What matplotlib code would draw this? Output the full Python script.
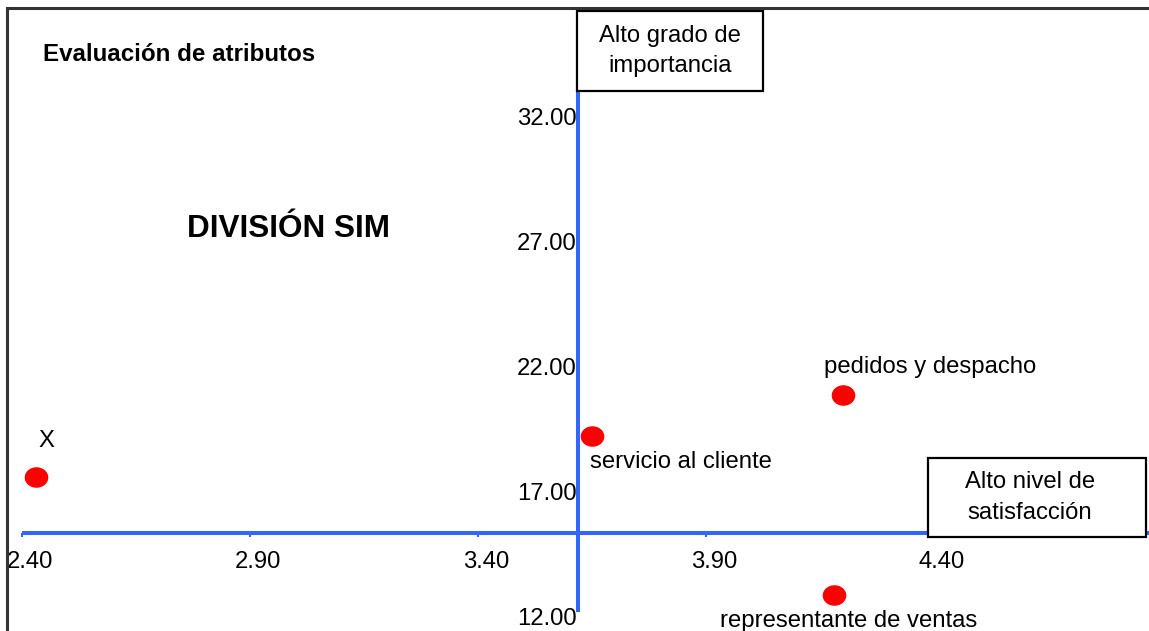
import numpy as np
import matplotlib
matplotlib.use("Agg")
import matplotlib.pyplot as plt
from matplotlib.path import Path
from matplotlib.patches import Rectangle
from matplotlib.lines import Line2D

# ---------------- data ----------------
categories = ["X", "servicio al cliente", "pedidos y despacho", "representante de ventas"]
satisfaction = [2.43, 3.65, 4.20, 4.18]       # x values
importance = [17.40, 19.05, 20.68, 12.68]     # y values
x_ticks = [2.40, 2.90, 3.40, 3.90, 4.40]
y_ticks = [12.00, 17.00, 22.00, 27.00, 32.00]
x_cross = 3.62    # where the vertical axis crosses
y_cross = 15.16   # where the horizontal axis crosses
title = "Evaluación de atributos"
subtitle = "DIVISIÓN SIM"
box_importance = "Alto grado de\nimportancia"
box_satisfaction = "Alto nivel de\nsatisfacción"

# label offsets in pixels (dx, dy) and alignment
label_offsets = [(3, 30, "left"), (-2, -32, "left"), (-19, 22, "left"), (-114, -32, "left")]

W, H = 1149, 631
plt.rcParams["font.family"] = ["Liberation Sans", "DejaVu Sans"]
fig = plt.figure(figsize=(W / 100, H / 100), dpi=100)
ax = fig.add_axes([0, 0, 1, 1])
ax.set_axis_off()

# pixel mapping: x=2.40 at px 22, 456 px per unit; y=12 at px 612 (from top), 25 px per unit
ax.set_xlim(2.40 - 22 / 456, 2.40 + (W - 22) / 456)
ax.set_ylim(12 - (H - 612) / 25, 12 + 612 / 25)

blue = "#3366FF"
fs = 17.2

# axes lines
ax.plot([x_ticks[0], ax.get_xlim()[1]], [y_cross, y_cross], color=blue, lw=2.9,
        solid_capstyle="butt", zorder=2)
ax.plot([x_cross, x_cross], [y_ticks[0], 35.5], color=blue, lw=2.9,
        solid_capstyle="butt", zorder=2)
# small tick marks on horizontal axis
ax.plot(x_ticks, [y_cross] * len(x_ticks), linestyle="none", marker=3, ms=3,
        mew=1.5, color=blue, zorder=2)

# tick labels
for xt in x_ticks:
    ax.annotate(f"{xt:.2f}", xy=(xt, y_cross), xytext=(8, -35), textcoords="offset pixels",
                ha="center", va="baseline", fontsize=fs, color="black")
for yt in y_ticks:
    ax.annotate(f"{yt:.2f}", xy=(x_cross, yt), xytext=(-2, -13), textcoords="offset pixels",
                ha="right", va="baseline", fontsize=fs, color="black")

# ellipse marker
th = np.linspace(0, 2 * np.pi, 60)
ell = Path(np.column_stack([np.cos(th), 0.86 * np.sin(th)]), closed=True)
ax.plot(satisfaction, importance, linestyle="none", marker=ell, ms=16, color="#FF0000",
        mec="#FF0000", zorder=4)

for name, xv, yv, (dx, dy, ha) in zip(categories, satisfaction, importance, label_offsets):
    ax.annotate(name, xy=(xv, yv), xytext=(dx, dy), textcoords="offset pixels",
                ha=ha, va="baseline", fontsize=fs, color="black", zorder=5)

# titles
fig.text(43 / W, 1 - 61 / H, title, fontsize=17.4, fontweight="bold", ha="left", va="baseline")
fig.text(187 / W, 1 - 237 / H, subtitle, fontsize=22.7, fontweight="bold", ha="left", va="baseline")

# boxes
def box(x0, y0, x1, y1, text, tx):
    r = Rectangle((x0 / W, 1 - y1 / H), (x1 - x0) / W, (y1 - y0) / H, transform=fig.transFigure,
                  facecolor="white", edgecolor="black", lw=1.6, zorder=10)
    fig.add_artist(r)
    fig.text(tx / W, 1 - (y0 + y1) / 2 / H, text, ha="center", va="center",
             multialignment="center", fontsize=fs, linespacing=1.5, zorder=11)

box(577, 11, 763, 91, box_importance, 670)
box(928, 458, 1146, 537, box_satisfaction, 1030)

# outer frame (top and left)
fig.add_artist(Line2D([7 / W, 1], [1 - 8 / H, 1 - 8 / H], transform=fig.transFigure,
                      color="#333333", lw=2.2, zorder=12))
fig.add_artist(Line2D([7 / W, 7 / W], [0, 1 - 8 / H], transform=fig.transFigure,
                      color="#333333", lw=2.2, zorder=12))

fig.savefig("out.png", dpi=100, facecolor="white")
